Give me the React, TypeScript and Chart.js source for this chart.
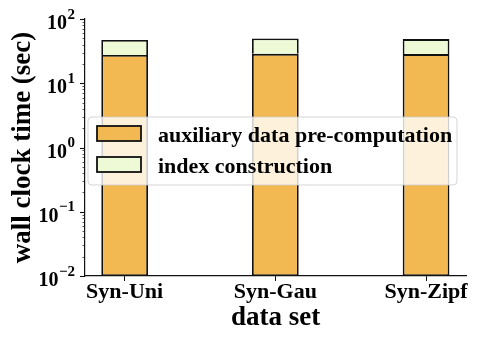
import React, { useEffect, useRef } from 'react';
import { Chart, registerables } from 'chart.js';

Chart.register(...registerables);

const categories = ['Syn-Uni', 'Syn-Gau', 'Syn-Zipf'];
const seriesLabels = ['auxiliary data pre-computation', 'index construction'];
const auxValues = [27.5, 28.7, 28.4];
const indexValues = [19.5, 21.2, 20.3];
const seriesColors = ['#F2B851', '#EEFAD6'];
const yTickExponents = [-2, -1, 0, 1, 2];
const yTickSup = ['\u22122', '\u22121', '0', '1', '2'];
const xTitle = 'data set';
const yTitle = 'wall clock time (sec)';

const FONT = "'Liberation Serif', 'Times New Roman', serif";

const customPlugin = {
  id: 'customDecor',
  afterDraw(chart: any) {
    const ctx = chart.ctx as CanvasRenderingContext2D;
    const ys = chart.scales.y;
    const left = chart.chartArea.left;
    ctx.save();
    // y ticks (major + minor)
    ctx.strokeStyle = '#111';
    for (let n = -2; n <= 2; n++) {
      for (let k = 1; k <= 9; k++) {
        const v = k * Math.pow(10, n);
        if (v > 100.0001) continue;
        const py = Math.round(ys.getPixelForValue(v)) + 0.5;
        const len = k === 1 ? 5 : 2.5;
        ctx.lineWidth = k === 1 ? 1.1 : 0.7;
        ctx.beginPath();
        ctx.moveTo(left - len, py);
        ctx.lineTo(left, py);
        ctx.stroke();
      }
    }
    // y tick labels with superscripts
    ctx.fillStyle = '#000';
    ctx.textBaseline = 'alphabetic';
    yTickExponents.forEach((e, i) => {
      const py = ys.getPixelForValue(Math.pow(10, e));
      const sup = yTickSup[i];
      ctx.font = `bold 15px ${FONT}`;
      const sw = ctx.measureText(sup).width;
      const rightX = left - 10;
      ctx.textAlign = 'right';
      ctx.fillText(sup, rightX, py - 0.5);
      ctx.font = `bold 20px ${FONT}`;
      ctx.fillText('10', rightX - sw - 0.5, py + 10);
    });
    // legend
    const lx = 88, ly = 117, lw = 369, lh = 68, r = 4;
    ctx.beginPath();
    ctx.moveTo(lx + r, ly);
    ctx.lineTo(lx + lw - r, ly);
    ctx.quadraticCurveTo(lx + lw, ly, lx + lw, ly + r);
    ctx.lineTo(lx + lw, ly + lh - r);
    ctx.quadraticCurveTo(lx + lw, ly + lh, lx + lw - r, ly + lh);
    ctx.lineTo(lx + r, ly + lh);
    ctx.quadraticCurveTo(lx, ly + lh, lx, ly + lh - r);
    ctx.lineTo(lx, ly + r);
    ctx.quadraticCurveTo(lx, ly, lx + r, ly);
    ctx.closePath();
    ctx.fillStyle = 'rgba(255,255,255,0.8)';
    ctx.fill();
    ctx.strokeStyle = 'rgba(204,204,204,0.8)';
    ctx.lineWidth = 1;
    ctx.stroke();
    const rows = [126, 157];
    chart.data.datasets.forEach((ds: any, i: number) => {
      const top = rows[i];
      ctx.fillStyle = ds.backgroundColor;
      ctx.fillRect(97, top, 44, 15);
      ctx.strokeStyle = '#111';
      ctx.lineWidth = 1.8;
      ctx.strokeRect(97, top, 44, 15);
      ctx.fillStyle = '#000';
      ctx.font = `bold 22px ${FONT}`;
      ctx.textAlign = 'left';
      ctx.textBaseline = 'alphabetic';
      ctx.fillText(ds.label, 158, top + 15.5);
    });
    ctx.restore();
  },
};

export default function App() {
  const ref = useRef<HTMLCanvasElement | null>(null);
  useEffect(() => {
    if (!ref.current) return;
    Chart.defaults.font.family = FONT;
    const chart = new Chart(ref.current, {
      type: 'bar',
      data: {
        datasets: [
          {
            label: seriesLabels[0],
            data: auxValues.map((v, i) => ({ x: i, y: v })),
            backgroundColor: seriesColors[0],
            borderColor: '#111',
            borderWidth: 1.8,
            borderSkipped: false,
            barPercentage: 0.31,
            categoryPercentage: 1,
          },
          {
            label: seriesLabels[1],
            data: indexValues.map((v, i) => ({ x: i, y: v })),
            backgroundColor: seriesColors[1],
            borderColor: '#111',
            borderWidth: 1.8,
            borderSkipped: 'start',
            barPercentage: 0.31,
            categoryPercentage: 1,
          },
        ],
      },
      options: {
        responsive: false,
        animation: false,
        layout: { padding: { top: 19, right: 12, left: 0, bottom: 0 } },
        plugins: { legend: { display: false }, tooltip: { enabled: false } },
        scales: {
          x: {
            type: 'linear',
            stacked: true,
            offset: false,
            min: -0.263,
            max: 2.265,
            afterBuildTicks: (scale: any) => {
              scale.ticks = categories.map((_, i) => ({ value: i }));
            },
            afterFit: (scale: any) => {
              scale.height = 66;
            },
            ticks: {
              callback: (v: any) => categories[Math.round(Number(v))] ?? '',
              color: '#000',
              font: { size: 22, weight: 'bold', family: FONT, lineHeight: 1 },
              padding: 0,
              maxRotation: 0,
              autoSkip: false,
            },
            grid: {
              display: true,
              offset: false,
              drawOnChartArea: false,
              drawTicks: true,
              tickLength: 5,
              tickColor: '#111',
              tickWidth: 1,
            },
            border: { display: true, color: '#111', width: 1.2 },
            title: {
              display: true,
              text: xTitle,
              color: '#000',
              font: { size: 27, weight: 'bold', family: FONT },
              padding: { top: 0, bottom: 8 },
            },
          },
          y: {
            type: 'logarithmic',
            stacked: true,
            min: 0.01,
            max: 100,
            afterFit: (scale: any) => {
              scale.width = 85;
            },
            ticks: { display: false },
            grid: { display: false },
            border: { display: true, color: '#111', width: 1.2 },
            title: {
              display: true,
              text: yTitle,
              color: '#000',
              font: { size: 27, weight: 'bold', family: FONT },
              padding: { top: 7, bottom: 0 },
            },
          },
        },
      },
      plugins: [customPlugin],
    } as any);
    return () => chart.destroy();
  }, []);
  return (
    <div style={{ position: 'fixed', left: 0, top: 0, width: 478, height: 342, background: '#fff' }}>
      <canvas ref={ref} width={478} height={342} />
    </div>
  );
}
